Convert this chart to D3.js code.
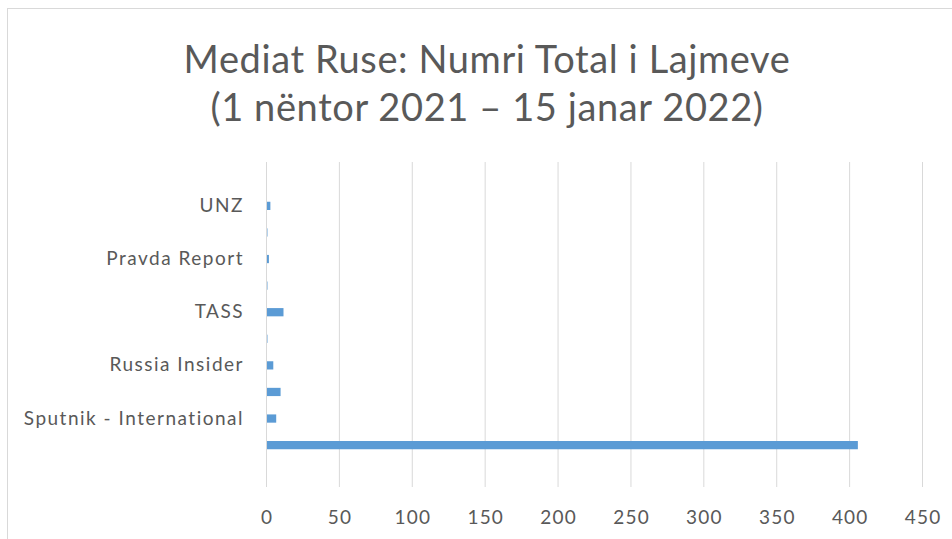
<!DOCTYPE html>
<html>
<head>
<meta charset="utf-8">
<script src="https://cdn.jsdelivr.net/npm/d3@7"></script>
<style>
  body { margin: 0; background: #fff; }
  text { font-family: Lato, "Open Sans", sans-serif; }
</style>
</head>
<body>
<div id="plotDiv"></div>
<script>
// categories bottom -> top (Excel order), every other label is shown
const categories = ["", "RT", "Sputnik - International", "Strategic Culture", "Russia Insider",
  "Katehon", "TASS", "New Eastern Outlook", "Pravda Report", "Global Research", "UNZ", "Oriental Review"];
const values = [0, 406, 7, 10, 5, 1, 12, 1, 2, 1, 3, 0];
const xTicks = [0, 50, 100, 150, 200, 250, 300, 350, 400, 450];
const titleLines = ["Mediat Ruse: Numri Total i Lajmeve", "(1 nëntor 2021 – 15 janar 2022)"];

const W = 952, H = 539;
const chart_margin = {top: 166, right: 30, bottom: 54, left: 266};
const chart_width = W - chart_margin.left - chart_margin.right;
const chart_height = H - chart_margin.top - chart_margin.bottom;

const svg = d3.select("#plotDiv").append("svg")
    .attr("width", W)
    .attr("height", H);

// chart border
svg.append("rect")
    .attr("x", 7.5).attr("y", 8.5)
    .attr("width", W + 10).attr("height", H + 10)
    .attr("fill", "none")
    .attr("stroke", "#d9d9d9");

const g = svg.append("g")
    .attr("transform", `translate(${chart_margin.left},${chart_margin.top})`);

// scales
const xScale = d3.scaleLinear()
    .domain([0, 450])
    .range([0, 656]);

const yScale = d3.scaleBand()
    .domain(categories)
    .range([chart_height, 0])
    .paddingInner(0.69)
    .paddingOuter(0.345);

// vertical gridlines
g.selectAll(".grid")
    .data(xTicks.slice(1))
    .enter().append("line")
    .attr("class", "grid")
    .attr("x1", d => xScale(d) + 0.5)
    .attr("x2", d => xScale(d) + 0.5)
    .attr("y1", -4)
    .attr("y2", chart_height + 2)
    .attr("stroke", "#d9d9d9");

// bars
g.selectAll(".bar")
    .data(values)
    .enter().append("rect")
    .attr("class", "bar")
    .attr("x", xScale(0))
    .attr("y", (d, i) => yScale(categories[i]))
    .attr("width", d => xScale(d) - xScale(0))
    .attr("height", yScale.bandwidth())
    .attr("fill", "#5b9bd5");

// x axis (labels only)
const xAxis = d3.axisBottom(xScale)
    .tickValues(xTicks)
    .tickSize(0)
    .tickPadding(26);
const xg = g.append("g")
    .attr("transform", `translate(0,${chart_height})`)
    .call(xAxis);
xg.select(".domain").remove();
xg.selectAll("text")
    .attr("fill", "#595959")
    .attr("dx", "0.6px")
    .style("font-size", "19px")
    .style("letter-spacing", "1.2px");

// y axis, every other category label
const yAxis = d3.axisLeft(yScale)
    .tickValues(categories.filter((c, i) => i % 2 === 0))
    .tickSize(0)
    .tickPadding(22);
const yg = g.append("g").call(yAxis);
yg.select(".domain")
    .attr("stroke", "#d9d9d9")
    .attr("d", `M0.5,-4V${chart_height + 2}`);
yg.selectAll("text")
    .attr("fill", "#595959")
    .style("font-size", "19px")
    .style("letter-spacing", "1.5px");

// title
svg.append("g").selectAll("text")
    .data(titleLines)
    .enter().append("text")
    .attr("x", 487)
    .attr("y", (d, i) => 73 + i * 48)
    .attr("text-anchor", "middle")
    .attr("fill", "#595959")
    .style("font-size", "38px")
    .style("letter-spacing", "0.6px")
    .text(d => d);
</script>
</body>
</html>
